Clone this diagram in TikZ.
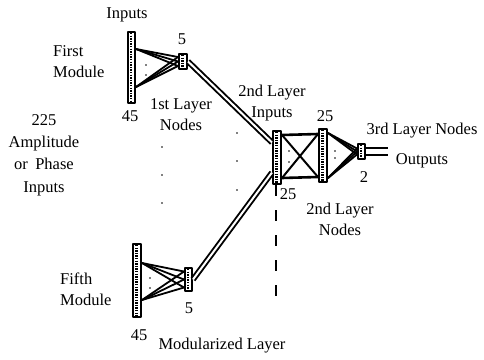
\documentclass[tikz,border=0pt]{standalone}
\usepackage{fontspec}
\setmainfont{Liberation Serif}

\begin{document}
\begin{tikzpicture}[x=1pt, y=-1pt, line cap=round, line join=round,
  bar/.style={draw, line width=2.0pt, inner sep=0pt, fill=white,
    path picture={\draw[line width=2.6pt, line cap=butt, dash pattern=on 1.3pt off 1.3pt]
      ([xshift=-0.4pt,yshift=-1pt]path picture bounding box.north) --
      ([xshift=-0.4pt,yshift=1pt]path picture bounding box.south);}},
  fan/.style={line width=1.8pt},
  bus/.style={line width=1.9pt, double=white, double distance=2.0pt, line cap=butt},
  lbl/.style={inner sep=0pt, align=center, font=\fontsize{16.5}{21}\selectfont}]

  %% ════ 节点条（输入条 / 层节点）════
  \node[bar, minimum width=7.0pt, minimum height=71.0pt] (in1) at (131.5,67.5) {};
  \node[bar, minimum width=8.0pt, minimum height=15.0pt] (n1)  at (183.0,61.5) {};
  \node[bar, minimum width=8.0pt, minimum height=73.0pt] (in5) at (137.0,280.5) {};
  \node[bar, minimum width=7.0pt, minimum height=23.0pt] (n5)  at (188.5,279.5) {};
  \node[bar, minimum width=8.0pt, minimum height=53.0pt] (in2) at (277.0,157.5) {};
  \node[bar, minimum width=8.0pt, minimum height=53.0pt] (n2)  at (323.0,155.5) {};
  \node[bar, minimum width=7.0pt, minimum height=15.0pt] (n3)  at (361.5,151.5) {};

  \coordinate (o1) at (388,148);
  \coordinate (o2) at (388,155);
  \coordinate (dashend) at (276,300);

  %% ════ 模块内扇形连线 ════
  \foreach \s in {-4.5,0,4.5} {
    \draw[fan] ([yshift=-18pt]in1.north east) -- ([yshift=\s pt]n1.west);
    \draw[fan] ([yshift=17pt]in1.south east) -- ([yshift=\s pt]n1.west);
  }
  \foreach \s in {-8,0,8} {
    \draw[fan] ([yshift=-20pt]in5.north east) -- ([yshift=\s pt]n5.west);
    \draw[fan] ([yshift=18pt]in5.south east) -- ([yshift=\s pt]n5.west);
  }

  %% ════ 双线总线 ════
  \draw[bus] (n1.east) -- ([yshift=15pt]in2.west);
  \draw[bus] (n5.east) -- ([yshift=-15pt]in2.west);

  %% ════ 第二层全连接 ════
  \draw[fan, line width=2.6pt] ([yshift=-5pt]in2.north east) -- ([yshift=-6pt]n2.north west);
  \draw[fan, line width=2.6pt] ([yshift=7pt]in2.south east) -- ([yshift=6pt]n2.south west);
  \draw[fan, line width=2.0pt] ([yshift=-5pt]in2.north east) -- ([yshift=6pt]n2.south west);
  \draw[fan, line width=2.0pt] ([yshift=7pt]in2.south east) -- ([yshift=-6pt]n2.north west);

  %% ════ 第三层 ════
  \foreach \s in {-3,0,3} {
    \draw[fan] ([yshift=-5pt]n2.north east) -- ([yshift=\s pt]n3.west);
    \draw[fan] ([yshift=5pt]n2.south east) -- ([yshift=\s pt]n3.west);
  }
  \draw[line width=2.4pt, line cap=butt] (n3.east |- o1) -- (o1);
  \draw[line width=2.4pt, line cap=butt] (n3.east |- o2) -- (o2);

  %% ════ 虚线分隔 ════
  \draw[line width=1.8pt, line cap=butt, dash pattern=on 11pt off 14pt] ([xshift=-1pt]in2.south) -- (dashend);

  %% ════ 省略点 ════
  \foreach \p in {(146,65),(146,75),(150,278),(150,288),(289,151),(289,162),(335,151),(335,158)}
    \fill \p circle (0.9);
  \foreach \p in {(162,147),(162,175),(162,203),(237,133),(237,161),(237,190)}
    \fill \p circle (0.8);

  %% ════ 标签 ════
  \node[lbl] (tInputs) at (127,15)  {Inputs};
  \node[lbl] (tFive1)  at (182,39)  {5};
  \node[lbl, align=left, anchor=west] (tFirst) at (53,62) {First\\Module};
  \node[lbl] (tFortyfive1) at (130,116) {45};
  \node[lbl] (tLayerOne) at (181,115) {1st Layer\\Nodes};
  \node[lbl, font=\fontsize{16.5}{22.3}\selectfont] (tAmp) at (44,155) {225\\Amplitude\\or\;\,Phase\\Inputs};
  \node[lbl] (tInTwo) at (272,103) {2nd Layer\\Inputs};
  \node[lbl] (tTwentyfiveA) at (325,116) {25};
  \node[lbl] (tTwentyfiveB) at (288,194) {25};
  \node[lbl] (tLayerTwo) at (340,219) {2nd Layer\\Nodes};
  \node[lbl] (tLayerThree) at (422,131) {3rd Layer Nodes};
  \node[lbl] (tOutputs) at (422,161) {Outputs};
  \node[lbl] (tTwo) at (364,177) {2};
  \node[lbl, align=left, anchor=west] (tFifth) at (60,289) {Fifth\\Module};
  \node[lbl] (tFive5) at (189,308) {5};
  \node[lbl] (tFortyfive5) at (139,335) {45};
  \node[lbl] (tModular) at (222,346) {Modularized Layer};

  % 钉死画布
  \pgfresetboundingbox
  \path[use as bounding box] (0,0) rectangle (484,359);
\end{tikzpicture}
\end{document}
